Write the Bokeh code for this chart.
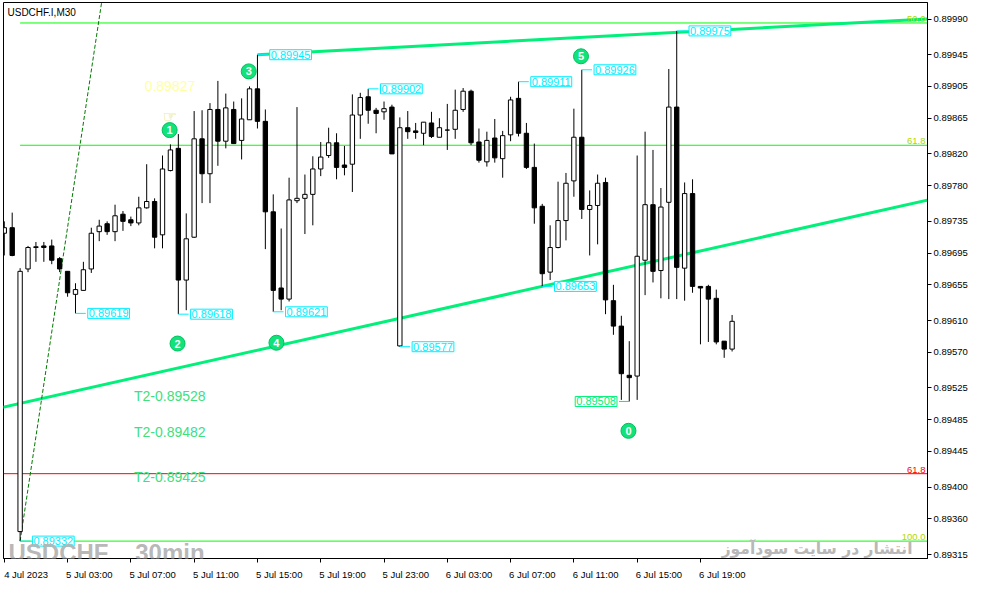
from bokeh.plotting import figure
from bokeh.models import Range1d, FixedTicker, PrintfTickFormatter, Label, ColumnDataSource
from bokeh.core.properties import value
from bokeh.embed import file_html
from bokeh.resources import INLINE

# ---------------- data (USDCHF.I, M30) ----------------
bar_index = list(range(93))
opens = [0.89720, 0.89727, 0.89344, 0.89675, 0.89702, 0.89704, 0.89704, 0.89688, 0.89672, 0.89643,
         0.89648, 0.89675, 0.89722, 0.89732, 0.89722, 0.89744, 0.89737, 0.89733, 0.89752, 0.89760,
         0.89718, 0.89799, 0.89827, 0.89661, 0.89715, 0.89839, 0.89795, 0.89876, 0.89836, 0.89876,
         0.89837, 0.89863, 0.89902, 0.89861, 0.89747, 0.89651, 0.89637, 0.89761, 0.89764, 0.89769,
         0.89801, 0.89818, 0.89834, 0.89806, 0.89807, 0.89869, 0.89892, 0.89875, 0.89873, 0.89879,
         0.89578, 0.89853, 0.89849, 0.89846, 0.89859, 0.89841, 0.89850, 0.89851, 0.89876, 0.89899,
         0.89835, 0.89810, 0.89840, 0.89814, 0.89844, 0.89890, 0.89846, 0.89803, 0.89754, 0.89671,
         0.89702, 0.89736, 0.89786, 0.89841, 0.89750, 0.89755, 0.89784, 0.89635, 0.89603, 0.89541,
         0.89540, 0.89686, 0.89756, 0.89673, 0.89759, 0.89879, 0.89676, 0.89770, 0.89653, 0.89653,
         0.89638, 0.89584, 0.89574]
highs = [0.89735, 0.89746, 0.89676, 0.89704, 0.89709, 0.89709, 0.89712, 0.89690, 0.89672, 0.89657,
         0.89684, 0.89727, 0.89737, 0.89735, 0.89756, 0.89748, 0.89741, 0.89766, 0.89807, 0.89764,
         0.89818, 0.89832, 0.89845, 0.89745, 0.89874, 0.89875, 0.89884, 0.89912, 0.89896, 0.89886,
         0.89890, 0.89905, 0.89945, 0.89876, 0.89769, 0.89726, 0.89790, 0.89879, 0.89794, 0.89817,
         0.89835, 0.89853, 0.89846, 0.89830, 0.89895, 0.89897, 0.89902, 0.89878, 0.89886, 0.89882,
         0.89866, 0.89874, 0.89859, 0.89860, 0.89873, 0.89865, 0.89883, 0.89901, 0.89903, 0.89901,
         0.89852, 0.89848, 0.89864, 0.89849, 0.89892, 0.89911, 0.89859, 0.89833, 0.89757, 0.89730,
         0.89785, 0.89796, 0.89877, 0.89926, 0.89774, 0.89794, 0.89790, 0.89655, 0.89616, 0.89584,
         0.89818, 0.89848, 0.89825, 0.89777, 0.89927, 0.89975, 0.89784, 0.89788, 0.89653, 0.89655,
         0.89649, 0.89584, 0.89617]
lows = [0.89692, 0.89691, 0.89332, 0.89671, 0.89684, 0.89684, 0.89681, 0.89671, 0.89640, 0.89619,
        0.89648, 0.89670, 0.89710, 0.89718, 0.89710, 0.89723, 0.89729, 0.89730, 0.89751, 0.89701,
        0.89701, 0.89798, 0.89618, 0.89623, 0.89714, 0.89758, 0.89758, 0.89805, 0.89827, 0.89833,
        0.89813, 0.89863, 0.89852, 0.89700, 0.89621, 0.89623, 0.89634, 0.89758, 0.89719, 0.89730,
        0.89792, 0.89815, 0.89788, 0.89793, 0.89772, 0.89839, 0.89858, 0.89846, 0.89863, 0.89820,
        0.89577, 0.89839, 0.89839, 0.89831, 0.89840, 0.89841, 0.89825, 0.89839, 0.89873, 0.89831,
        0.89809, 0.89804, 0.89809, 0.89790, 0.89836, 0.89842, 0.89801, 0.89732, 0.89653, 0.89661,
        0.89701, 0.89711, 0.89766, 0.89738, 0.89692, 0.89706, 0.89618, 0.89592, 0.89510, 0.89508,
        0.89510, 0.89642, 0.89658, 0.89638, 0.89637, 0.89637, 0.89635, 0.89645, 0.89580, 0.89583,
        0.89580, 0.89563, 0.89571]
closes = [0.89727, 0.89692, 0.89672, 0.89702, 0.89703, 0.89702, 0.89686, 0.89675, 0.89645, 0.89649,
          0.89674, 0.89720, 0.89729, 0.89722, 0.89742, 0.89735, 0.89733, 0.89752, 0.89760, 0.89715,
          0.89801, 0.89825, 0.89661, 0.89713, 0.89839, 0.89795, 0.89876, 0.89836, 0.89878, 0.89833,
          0.89864, 0.89902, 0.89861, 0.89747, 0.89648, 0.89637, 0.89762, 0.89764, 0.89769, 0.89801,
          0.89816, 0.89834, 0.89803, 0.89803, 0.89869, 0.89891, 0.89875, 0.89871, 0.89877, 0.89820,
          0.89853, 0.89848, 0.89847, 0.89860, 0.89842, 0.89853, 0.89850, 0.89875, 0.89899, 0.89834,
          0.89812, 0.89837, 0.89815, 0.89843, 0.89888, 0.89846, 0.89803, 0.89752, 0.89669, 0.89702,
          0.89736, 0.89783, 0.89841, 0.89750, 0.89755, 0.89783, 0.89636, 0.89603, 0.89543, 0.89538,
          0.89691, 0.89756, 0.89672, 0.89753, 0.89879, 0.89677, 0.89770, 0.89653, 0.89651, 0.89637,
          0.89583, 0.89574, 0.89609]

x_tick_positions = [0, 8, 16, 24, 32, 40, 48, 56, 64, 72, 80, 88]
x_tick_labels = ["4 Jul 2023", "5 Jul 03:00", "5 Jul 07:00", "5 Jul 11:00", "5 Jul 15:00",
                 "5 Jul 19:00", "5 Jul 23:00", "6 Jul 03:00", "6 Jul 07:00", "6 Jul 11:00",
                 "6 Jul 15:00", "6 Jul 19:00"]
y_ticks = [0.89315, 0.89360, 0.89400, 0.89445, 0.89485, 0.89525, 0.89570, 0.89610, 0.89655,
           0.89695, 0.89735, 0.89780, 0.89820, 0.89865, 0.89905, 0.89945, 0.89990]

# Fibonacci retracements
fib_green_start_bar = 2
fib_green_low = 0.89332
fib_green_high = 0.90638
fib_green_levels = [50.0, 61.8, 100.0]
fib_red_levels = [61.8]
fib_red_prices = [0.89417]

# trend lines (anchor points)
upper_trend_x = [32, 116.7]
upper_trend_y = [0.89945, 0.89990]
lower_trend_x = [0, 68]
lower_trend_y = [0.89501, 0.89653]
dotted_trend_x = [2, 12]
dotted_trend_y = [0.89332, 0.89991]

# swing price labels
high_label_bars = [32, 46, 65, 73, 85]
low_label_bars = [2, 9, 22, 34, 50, 68]
low_label_left_bars = [79]

# wave markers
wave_names = ["1", "2", "3", "4", "5", "0"]
wave_x = [20.9, 21.9, 30.9, 34.4, 72.9, 78.9]
wave_y = [0.89850, 0.89581, 0.89924, 0.89582, 0.89943, 0.89471]

# targets
target_texts = ["T2-0.89528", "T2-0.89482", "T2-0.89425"]
target_prices = [0.89528, 0.89482, 0.89425]

# ---------------- figure ----------------
X0, X1 = -0.1, 116.7
Y0, Y1 = 0.893101, 0.900108
FONT = "Liberation Sans"
CYAN = "#00eeff"
SPRING = "#00f07a"
FIB_GREEN = "#00ff00"
FW, FH = 924, 556

p = figure(frame_width=FW, frame_height=FH, x_range=Range1d(X0, X1), y_range=Range1d(Y0, Y1),
           y_axis_location="right", output_backend="svg", toolbar_location=None,
           min_border_left=3, min_border_top=2, min_border_right=0, min_border_bottom=0,
           background_fill_color="white", border_fill_color="white")
p.grid.visible = False
p.outline_line_color = "black"
p.outline_line_width = 1

ya = p.yaxis[0]
ya.ticker = FixedTicker(ticks=y_ticks)
ya.formatter = PrintfTickFormatter(format="%.5f")
ya.major_tick_out = 4
ya.major_label_standoff = 2
ya.minor_tick_out = 0

# x axis: tick marks as minor ticks at bar positions, labels (major) shifted so that
# they start at their tick, like the terminal does
LABEL_SHIFT = 2.75  # half a label width, in bars
label_ticks = [t + LABEL_SHIFT for t in x_tick_positions]
xa = p.xaxis[0]
xa.ticker = FixedTicker(ticks=label_ticks, minor_ticks=x_tick_positions)
xa.major_label_overrides = {k: v for k, v in zip(label_ticks, x_tick_labels)}
xa.major_tick_out = 0
xa.major_tick_line_color = None
xa.minor_tick_out = 4
xa.minor_tick_in = 0
xa.minor_tick_line_color = "black"
xa.major_label_standoff = 6

for ax in (xa, ya):
    ax.axis_line_color = "black"
    ax.major_tick_in = 0
    ax.major_label_text_font = FONT
    ax.major_label_text_font_size = "9.5px"
    ax.major_label_text_color = "black"
ya.major_tick_line_color = "black"
ya.minor_tick_in = 0

# fib lines
for lvl in fib_green_levels:
    price = fib_green_high - lvl / 100.0 * (fib_green_high - fib_green_low)
    p.line([fib_green_start_bar, X1], [price, price], line_color=FIB_GREEN, line_width=1)
    p.add_layout(Label(x=X1, y=price, text=f"{lvl:.1f}", text_align="right", text_baseline="bottom",
                       x_offset=-2, y_offset=1, text_font=FONT, text_font_size="9.5px",
                       text_color="#b0d800"))
for lvl, price in zip(fib_red_levels, fib_red_prices):
    p.line([X0, X1], [price, price], line_color="#ff0000", line_width=1)
    p.add_layout(Label(x=X1, y=price, text=f"{lvl:.1f}", text_align="right", text_baseline="bottom",
                       x_offset=-2, y_offset=1, text_font=FONT, text_font_size="9.5px",
                       text_color="#ff0000"))

# trend lines
def extend(xs, ys, xa_, xb_):
    s = (ys[1] - ys[0]) / (xs[1] - xs[0])
    return [xa_, xb_], [ys[0] + s * (xa_ - xs[0]), ys[0] + s * (xb_ - xs[0])]

p.line(upper_trend_x, upper_trend_y, line_color=SPRING, line_width=3)
lx, ly = extend(lower_trend_x, lower_trend_y, X0 - 1, X1 + 1)
p.line(lx, ly, line_color=SPRING, line_width=3)
dx, dy = extend(dotted_trend_x, dotted_trend_y, dotted_trend_x[0], 14)
p.line(dx, dy, line_color="#007a00", line_width=1, line_dash="4 2")

# candles
up = [c >= o for o, c in zip(opens, closes)]
src = ColumnDataSource(dict(
    x=bar_index, high=highs, low=lows,
    top=[max(o, c) for o, c in zip(opens, closes)],
    bottom=[min(o, c) for o, c in zip(opens, closes)],
    fill=["white" if u else "black" for u in up]))
p.segment(x0="x", y0="low", x1="x", y1="high", source=src, line_color="black", line_width=1)
p.vbar(x="x", width=0.55, top="top", bottom="bottom", source=src, fill_color="fill",
       line_color="black", line_width=1)

# swing labels
def price_label(k, price, side, col):
    x1 = k + 1.3 * side
    p.segment(x0=[k], y0=[price], x1=[x1], y1=[price], line_color=col, line_width=1)
    p.add_layout(Label(x=x1, y=price, text=f"{price:.5f}",
                       text_align="left" if side > 0 else "right", text_baseline="middle",
                       x_offset=2 * side, text_font=FONT, text_font_size="11px", text_color=col,
                       border_line_color=col, border_line_width=1, background_fill_color="white",
                       padding=1))

for k in high_label_bars:
    price_label(k, highs[k], 1, CYAN)
for k in low_label_bars:
    price_label(k, lows[k], 1, CYAN)
for k in low_label_left_bars:
    price_label(k, lows[k], -1, SPRING)

# wave markers
p.scatter(x=wave_x, y=wave_y, marker="circle", size=15, fill_color="#12e27a", line_color="#00c060")
p.text(x=wave_x, y=wave_y, text=wave_names, text_align="center", text_baseline="middle",
       text_color="white", text_font=value(FONT), text_font_style="bold", text_font_size="11px")

# yellow marker + text
p.add_layout(Label(x=20.94, y=0.89906, text=f"{opens[22]:.5f}", text_align="center",
                   text_baseline="middle", text_font=FONT, text_font_size="14px",
                   text_color="#ffffa0"))
p.add_layout(Label(x=20.94, y=0.89867, text="\u261e", text_align="center", text_baseline="middle",
                   text_font="DejaVu Sans", text_font_size="16px", text_color="#d8d840"))

# targets
for t, pr in zip(target_texts, target_prices):
    p.add_layout(Label(x=16.4, y=pr, text=t, text_align="left", text_baseline="top", y_offset=-2,
                       text_font=FONT, text_font_size="14px", text_color="#3ee07f"))

# title and watermarks
p.add_layout(Label(x=4, y=FH - 4, x_units="screen", y_units="screen", text="USDCHF.I,M30",
                   text_align="left", text_baseline="top", text_font=FONT,
                   text_font_size="10px", text_color="black"))
p.add_layout(Label(x=5, y=6, x_units="screen", y_units="screen", text="USDCHF _ 30min",
                   text_align="left", text_baseline="alphabetic",
                   text_font=FONT, text_font_style="bold",
                   text_font_size="24px", text_color="#b4b4b4", text_alpha=0.95))
p.add_layout(Label(x=FW - 15, y=10, x_units="screen", y_units="screen",
                   text="انتشار در سایت سودآموز", text_align="right", text_baseline="alphabetic",
                   text_font="DejaVu Sans", text_font_style="bold", text_font_size="15.5px",
                   text_color="#b8b8b8"))

open("out.html", "w").write(file_html(p, INLINE))
